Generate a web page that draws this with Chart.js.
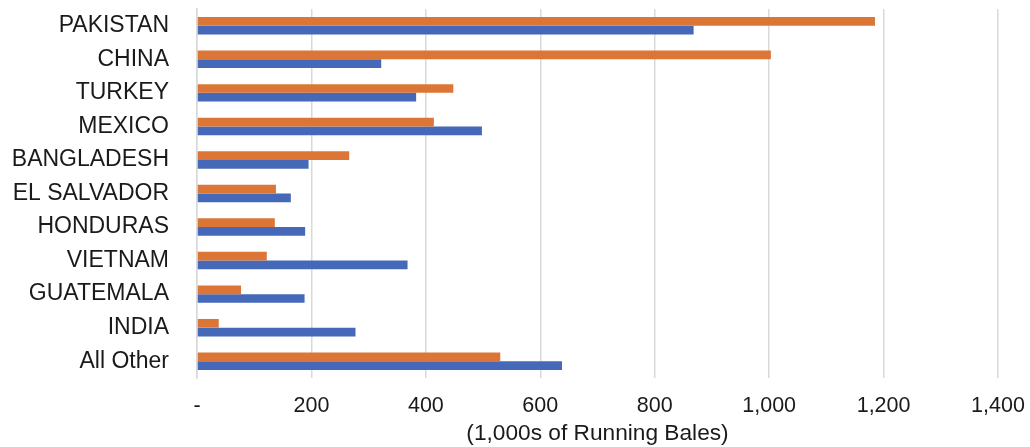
<!DOCTYPE html>
<html>
<head>
<meta charset="utf-8">
<script src="https://cdn.jsdelivr.net/npm/chart.js@4/dist/chart.umd.min.js"></script>
<style>
  html, body { margin: 0; padding: 0; background: #fff; }
  #wrap { width: 1030px; height: 447px; position: relative; }
</style>
</head>
<body>
<div id="wrap"><canvas id="bales"></canvas></div>
<script>
const countries = ["PAKISTAN", "CHINA", "TURKEY", "MEXICO", "BANGLADESH", "EL SALVADOR",
  "HONDURAS", "VIETNAM", "GUATEMALA", "INDIA", "All Other"]
// orange series (upper bar of each pair)
const orangeVals = [1185, 1003, 448, 414, 266, 138, 136, 122, 77, 38, 530]
// blue series (lower bar of each pair)
const blueVals = [868, 322, 383, 498, 195, 164, 189, 368, 188, 277, 638]
const xTicks = [0, 200, 400, 600, 800, 1000, 1200, 1400]
const axisTitle = "(1,000s of Running Bales)"

const txt = "#1a1a1a"
const gridCol = "#d9d9d9"
const fontFam = "'Liberation Sans', Arial, sans-serif"

new Chart(document.getElementById("bales").getContext("2d"), {
  type: "bar",
  data: {
    labels: countries,
    datasets: [
      { label: "orange", data: orangeVals, backgroundColor: "#DC7636", categoryPercentage: 0.52, barPercentage: 1.0 },
      { label: "blue", data: blueVals, backgroundColor: "#4568B9", categoryPercentage: 0.52, barPercentage: 1.0 }
    ]
  },
  options: {
    indexAxis: "y",
    responsive: true,
    maintainAspectRatio: false,
    animation: false,
    layout: { padding: { top: 9, right: 32, left: 0, bottom: 0 } },
    plugins: { legend: { display: false }, tooltip: { enabled: false } },
    scales: {
      x: {
        min: xTicks[0],
        max: xTicks[xTicks.length - 1],
        afterBuildTicks: s => { s.ticks = xTicks.map(v => ({ value: v })) },
        afterFit: s => { s.height = 69; s.paddingLeft = 0; s.paddingRight = 0 },
        grid: { color: gridCol, lineWidth: 1.5, drawTicks: false },
        border: { display: false },
        ticks: {
          color: txt,
          font: { family: fontFam, size: 21.5 },
          padding: 15,
          callback: v => v === 0 ? "-" : v.toLocaleString("en-US")
        },
        title: {
          display: true,
          text: axisTitle,
          color: txt,
          font: { family: fontFam, size: 22.7 },
          padding: { top: 4, bottom: 0 }
        }
      },
      y: {
        afterFit: s => { s.width = 197; s.paddingTop = 0; s.paddingBottom = 0 },
        grid: { display: false },
        border: { display: true, color: gridCol, width: 1.5 },
        ticks: {
          color: txt,
          font: { family: fontFam, size: 23 },
          padding: 20
        }
      }
    }
  }
})
</script>
</body>
</html>
